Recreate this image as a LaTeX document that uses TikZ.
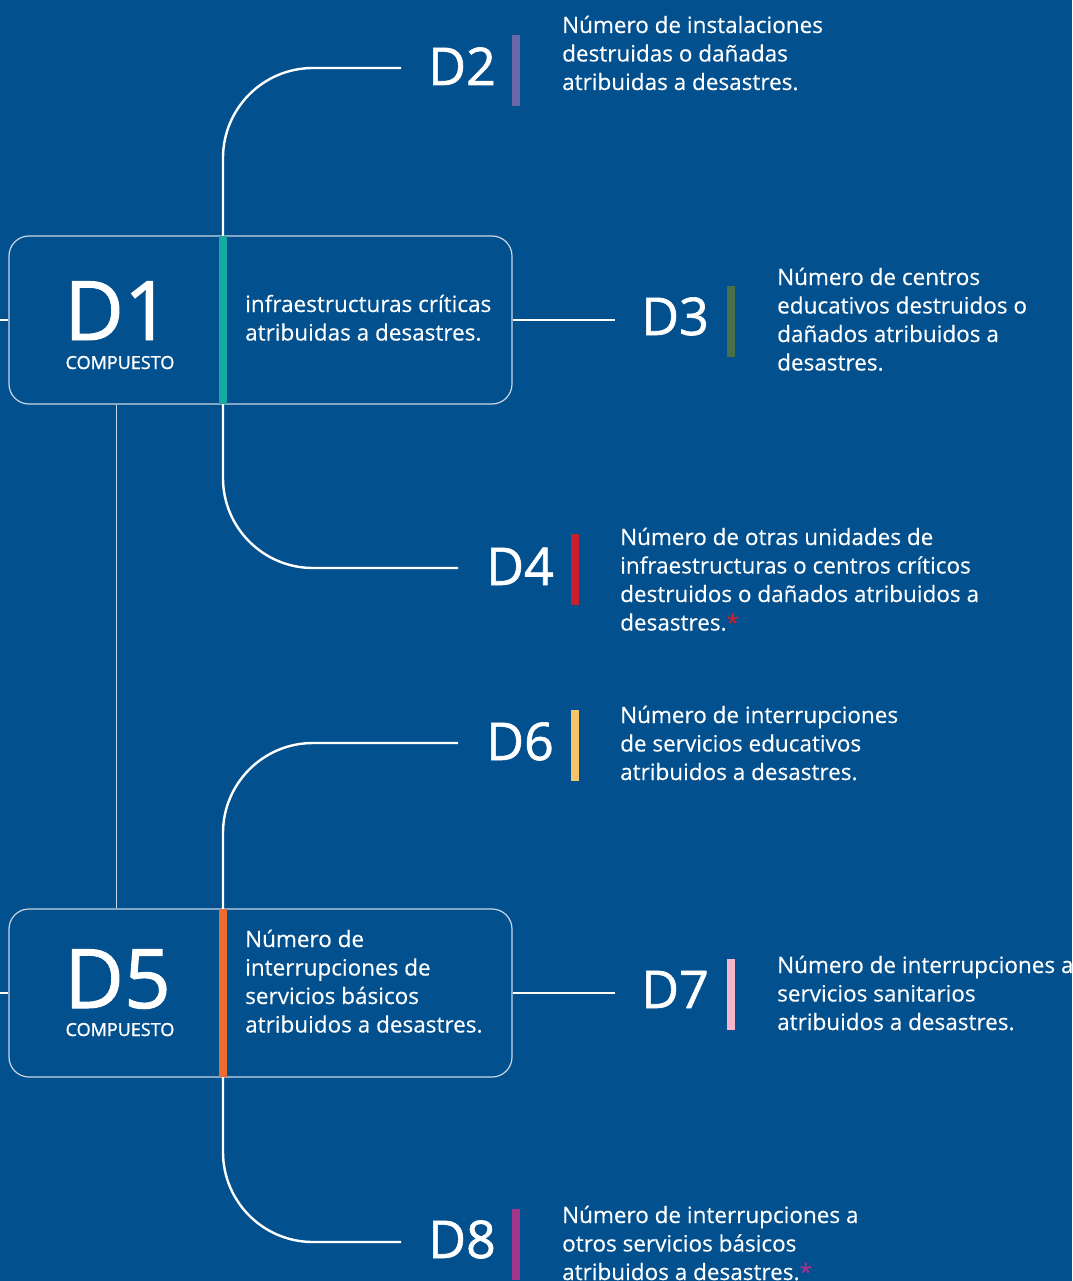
\documentclass[tikz,border=0pt]{standalone}
\usepackage{fontspec}
\setmainfont[FakeBold=0.35]{Open Sans}
\newfontfamily\dfont[FakeBold=1.2]{Open Sans}
\newfontfamily\cfont[FakeBold=1.4]{Open Sans}
\definecolor{bg}{HTML}{03508F}
\definecolor{cA}{HTML}{14ABA5}
\definecolor{cB}{HTML}{6A68AA}
\definecolor{cC}{HTML}{4A7048}
\definecolor{cD}{HTML}{C8202F}
\definecolor{cE}{HTML}{EE6C2F}
\definecolor{cF}{HTML}{F6C46B}
\definecolor{cG}{HTML}{F6B5C8}
\definecolor{cH}{HTML}{A3358C}
\definecolor{edge}{HTML}{C9D7E6}
\newcommand\tblock[1]{\vtop{\baselineskip=28.5pt #1}}
\tikzset{
  conn/.style={draw=white, line width=2.4pt},
  thinconn/.style={draw=edge, line width=1.3pt},
  boxst/.style={draw=edge, line width=1.2pt, rounded corners=20pt, fill=bg,
    minimum width=503pt, minimum height=168pt, inner sep=0pt},
  colbar/.style={fill=#1, minimum width=8pt, inner sep=0pt},
  dlab/.style={font=\dfont\fontsize{52}{52}\selectfont, text=white, inner sep=0pt, anchor=base west},
  biglab/.style={font=\dfont\fontsize{82}{82}\selectfont, text=white, inner sep=0pt, anchor=base west},
  comp/.style={font=\cfont\fontsize{18}{18}\selectfont, text=white, inner sep=0pt, anchor=base},
  desc/.style={font=\fontsize{22.5}{28.5}\selectfont, text=white, inner sep=0pt, anchor=base west},
}
\begin{document}
\begin{tikzpicture}[x=1pt,y=-1pt]
\fill[bg] (0,0) rectangle (1072,1281);
\useasboundingbox (0,0) rectangle (1072,1281);

% main boxes
\node[boxst] (b1) at (260.5,320) {};
\node[boxst] (b5) at (260.5,993) {};

% coordinates for free ends
\coordinate (l1) at (0,320);
\coordinate (l5) at (0,993);
\coordinate (c2) at (401,68);
\coordinate (c3) at (615,320);
\coordinate (c4) at (458,568);
\coordinate (c6) at (458,743);
\coordinate (c7) at (615,993);
\coordinate (c8) at (401,1242);

% bars in boxes
\node[colbar=cA, minimum height=168pt] (bar1) at (223,320) {};
\node[colbar=cE, minimum height=168pt] (bar5) at (223,993) {};

% connectors
\draw[conn] (b1.west) -- (l1);
\draw[conn] (b5.west) -- (l5);
\draw[thinconn] ([xshift=108pt]b1.south west) -- ([xshift=108pt]b5.north west);
\draw[conn, rounded corners=90pt] (bar1.north) |- (c2);
\draw[conn] (b1.east) -- (c3);
\draw[conn, rounded corners=90pt] (bar1.south) |- (c4);
\draw[conn, rounded corners=90pt] (bar5.north) |- (c6);
\draw[conn] (b5.east) -- (c7);
\draw[conn, rounded corners=90pt] (bar5.south) |- (c8);

% box texts
\node[biglab] (t1) at (64,340) {D1};
\node[comp] (k1) at (120,369) {COMPUESTO};
\node[desc] (x1) at (245,312) {\tblock{\hbox{infraestructuras críticas}\hbox{atribuidas a desastres.}}};

\node[biglab] (t5) at (64,1008) {D5};
\node[comp] (k5) at (120,1036) {COMPUESTO};
\node[desc] (x5) at (245,947) {\tblock{\hbox{Número de}\hbox{interrupciones de}\hbox{servicios básicos}\hbox{atribuidos a desastres.}}};

% D2
\node[dlab] (d2) at (428,85) {D2};
\node[colbar=cB, minimum height=71pt] (bar2) at (516,70.5) {};
\node[desc] (x2) at (562,33) {\tblock{\hbox{Número de instalaciones}\hbox{destruidas o dañadas}\hbox{atribuidas a desastres.}}};

% D3
\node[dlab] (d3) at (641,335) {D3};
\node[colbar=cC, minimum height=71pt] (bar3) at (731,321.5) {};
\node[desc] (x3) at (777,285) {\tblock{\hbox{Número de centros}\hbox{educativos destruidos o}\hbox{dañados atribuidos a}\hbox{desastres.}}};

% D4
\node[dlab] (d4) at (486,585) {D4};
\node[colbar=cD, minimum height=71pt] (bar4) at (575,569.5) {};
\node[desc] (x4) at (620,545) {\tblock{\hbox{Número de otras unidades de}\hbox{infraestructuras o centros críticos}\hbox{destruidos o dañados atribuidos a}\hbox{desastres.\textcolor{cD}{*}}}};

% D6
\node[dlab] (d6) at (486,760) {D6};
\node[colbar=cF, minimum height=71pt] (bar6) at (575,745.5) {};
\node[desc] (x6) at (620,723) {\tblock{\hbox{Número de interrupciones}\hbox{de servicios educativos}\hbox{atribuidos a desastres.}}};

% D7
\node[dlab] (d7) at (641,1008) {D7};
\node[colbar=cG, minimum height=71pt] (bar7) at (731,994.5) {};
\node[desc] (x7) at (777,973) {\tblock{\hbox{Número de interrupciones a}\hbox{servicios sanitarios}\hbox{atribuidos a desastres.}}};

% D8
\node[dlab] (d8) at (428,1258) {D8};
\node[colbar=cH, minimum height=71pt] (bar8) at (516,1244.5) {};
\node[desc] (x8) at (562,1223) {\tblock{\hbox{Número de interrupciones a}\hbox{otros servicios básicos}\hbox{atribuidos a desastres.\textcolor{cH}{*}}}};
\end{tikzpicture}
\end{document}
